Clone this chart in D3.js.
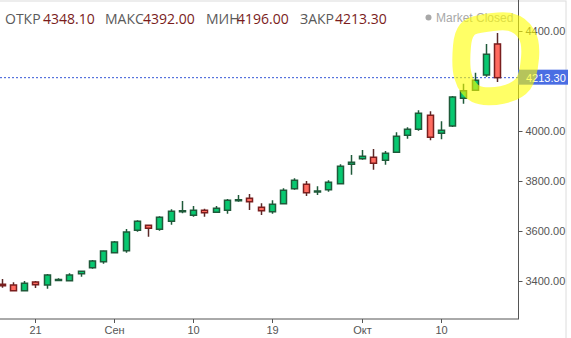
<!DOCTYPE html>
<html>
<head>
<meta charset="utf-8">
<script src="https://cdn.jsdelivr.net/npm/d3@7"></script>
<style>
  body { margin: 0; background: #fff; }
  svg { display: block; font-family: "Liberation Sans", Arial, sans-serif; }
  .hdr { font-family: "Open Sans", sans-serif; font-size: 14px; }
  .axis text { font-size: 11px; fill: #555; }
</style>
</head>
<body>
<div id="chart"></div>
<script>
var opens  = [3387, 3384, 3361, 3396, 3384, 3404, 3401, 3429, 3453, 3477, 3513, 3521, 3603, 3623, 3607,
              3639, 3678, 3663, 3683, 3675, 3683, 3722, 3731, 3695, 3677, 3709, 3769, 3787, 3759, 3765,
              3789, 3867, 3889, 3895, 3883, 3915, 3983, 4007, 4063, 3991, 4020, 4131, 4163, 4224, 4348.10];
var highs  = [3408, 3395, 3400, 3400, 3428, 3411, 3431, 3440, 3484, 3521, 3560, 3608, 3643, 3624, 3659,
              3687, 3720, 3700, 3689, 3700, 3728, 3744, 3748, 3711, 3723, 3771, 3811, 3800, 3779, 3803,
              3867, 3904, 3924, 3928, 3920, 3995, 4015, 4083, 4079, 4039, 4140, 4189, 4233, 4348, 4392.00];
var lows   = [3373, 3360, 3360, 3372, 3369, 3403, 3400, 3417, 3449, 3469, 3512, 3513, 3597, 3577, 3601,
              3625, 3671, 3657, 3657, 3674, 3669, 3717, 3684, 3664, 3669, 3708, 3765, 3740, 3744, 3757,
              3788, 3825, 3885, 3845, 3865, 3914, 3969, 4001, 3963, 3967, 4016, 4109, 4162, 4217, 4196.00];
var closes = [3381, 3361, 3391, 3385, 3424, 3406, 3424, 3439, 3480, 3520, 3556, 3596, 3639, 3611, 3655,
              3679, 3681, 3683, 3673, 3691, 3723, 3725, 3717, 3681, 3707, 3763, 3803, 3753, 3760, 3795,
              3859, 3875, 3899, 3871, 3911, 3979, 4007, 4071, 3975, 4003, 4136, 4161, 4203, 4307, 4213.30];

var xTickIndex  = [3, 10, 17, 24, 32, 39];
var xTickLabels = ["21", "Сен", "10", "19", "Окт", "10"];
var yTickValues = [3400, 3600, 3800, 4000, 4200, 4400];

var headerNames = ["ОТКР", "МАКС", "МИН", "ЗАКР"];

var width = 571, height = 338;
var plotW = 518, plotH = 319;

var candles = opens.map(function(o, i) {
  return {i: i, o: o, h: highs[i], l: lows[i], c: closes[i]};
});
var last = candles[candles.length - 1];

var x = d3.scaleLinear()
  .domain([-0.15, 45.85])
  .range([0, plotW]);

var y = d3.scaleLinear()
  .domain([3400, 4400])
  .range([281, 31]);

var fmt = d3.format(".2f");

var svg = d3.select('#chart').append('svg')
  .attr('width', width)
  .attr('height', height);

// light frame round the chart
svg.append('rect')
  .attr('x', -1)
  .attr('y', 1)
  .attr('width', 567)
  .attr('height', height + 5)
  .attr('fill', 'none')
  .attr('stroke', '#dcdcdc');

svg.append('clipPath')
  .attr('id', 'plotclip')
  .append('rect')
  .attr('x', 0)
  .attr('y', 0)
  .attr('width', plotW)
  .attr('height', plotH);

var plot = svg.append('g')
  .attr('clip-path', 'url(#plotclip)');

// last price line
plot.append('line')
  .attr('x1', 0)
  .attr('x2', plotW)
  .attr('y1', y(last.c))
  .attr('y2', y(last.c))
  .attr('stroke', '#3556d6')
  .attr('stroke-width', 1)
  .attr('stroke-dasharray', '2,2');

var bodyW = 6;

var g = plot.selectAll('g.candle')
  .data(candles)
  .enter().append('g')
  .attr('class', 'candle');

g.append('line')
  .attr('x1', function(d) { return Math.round(x(d.i)) + 0.5; })
  .attr('x2', function(d) { return Math.round(x(d.i)) + 0.5; })
  .attr('y1', function(d) { return y(d.h); })
  .attr('y2', function(d) { return y(d.l); })
  .attr('stroke', function(d) { return d.c >= d.o ? '#1f5a3a' : '#5a2a28'; })
  .attr('stroke-width', 1.5);

g.append('rect')
  .attr('x', function(d) { return Math.round(x(d.i)) + 0.5 - bodyW / 2; })
  .attr('y', function(d) { return y(Math.max(d.o, d.c)); })
  .attr('width', bodyW)
  .attr('height', function(d) { return Math.max(1, Math.abs(y(d.o) - y(d.c))); })
  .attr('fill', function(d) { return d.c >= d.o ? '#07c870' : '#ff6b60'; })
  .attr('stroke', function(d) { return d.c >= d.o ? '#1f5a3a' : '#7a1e1e'; })
  .attr('stroke-width', 1.5);

// axes
var xAxis = svg.append('g')
  .attr('class', 'axis')
  .attr('transform', `translate(${0}, ${plotH})`);

xAxis.append('line')
  .attr('x1', 0)
  .attr('x2', plotW)
  .attr('stroke', '#555');

var xt = xAxis.selectAll('g.tick')
  .data(xTickIndex)
  .enter().append('g')
  .attr('class', 'tick')
  .attr('transform', function(d) { return `translate(${Math.round(x(d)) + 0.5}, 0)`; });

xt.append('line')
  .attr('y2', 4)
  .attr('stroke', '#555');

xt.append('text')
  .attr('y', 15)
  .attr('text-anchor', 'middle')
  .text(function(d, i) { return xTickLabels[i]; });

var yAxis = svg.append('g')
  .attr('class', 'axis')
  .attr('transform', `translate(${plotW + 0.5}, ${0})`);

yAxis.append('line')
  .attr('y1', 0)
  .attr('y2', plotH + 0.5)
  .attr('stroke', '#555');

var yt = yAxis.selectAll('g.tick')
  .data(yTickValues.filter(function(v) { return Math.abs(y(v) - y(last.c)) > 12; }))
  .enter().append('g')
  .attr('class', 'tick')
  .attr('transform', function(d) { return `translate(0, ${Math.round(y(d)) + 0.5})`; });

yt.append('line')
  .attr('x2', 4)
  .attr('stroke', '#555');

yt.append('text')
  .attr('x', 7)
  .attr('dy', '0.35em')
  .text(function(d) { return fmt(d); });

// last price label
var priceLabel = svg.append('g')
  .attr('transform', `translate(${plotW}, ${y(last.c)})`);

priceLabel.append('rect')
  .attr('x', 0)
  .attr('y', -8)
  .attr('width', 50)
  .attr('height', 15)
  .attr('fill', '#4a6de3');

priceLabel.append('text')
  .attr('x', 8)
  .attr('dy', '0.35em')
  .attr('fill', '#fff')
  .style('font-size', '11px')
  .text(fmt(last.c));

// header: open / high / low / close
var headerVals = [last.o, last.h, last.l, last.c];
var headerX = [5, 105, 206, 300];
var headerValX = [43, 143, 237, 335];

var hdr = svg.append('g')
  .attr('class', 'hdr');

headerNames.forEach(function(n, i) {
  hdr.append('text')
    .attr('x', headerX[i])
    .attr('y', 24)
    .attr('fill', '#5a5a5a')
    .text(n);
  hdr.append('text')
    .attr('x', headerValX[i])
    .attr('y', 24)
    .attr('fill', '#7a1c1c')
    .text(fmt(headerVals[i]));
});

svg.append('circle')
  .attr('cx', 428.5)
  .attr('cy', 17.5)
  .attr('r', 3)
  .attr('fill', '#a8a8a8');

svg.append('text')
  .attr('x', 436)
  .attr('y', 22)
  .attr('fill', '#a8a8a8')
  .style('font-size', '12px')
  .text('Market Closed');

// hand drawn yellow marker round the last candles
var ring = [[480, 24], [510, 22], [527, 35], [530, 58], [523, 84], [502, 95],
            [476, 94], [463, 76], [462, 46], [467, 30]];

svg.append('path')
  .attr('d', d3.line().curve(d3.curveCardinalClosed)(ring))
  .attr('fill', 'none')
  .attr('stroke', '#ffff00')
  .attr('stroke-opacity', 0.6)
  .attr('stroke-width', 18)
  .attr('stroke-linejoin', 'round');
</script>
</body>
</html>
